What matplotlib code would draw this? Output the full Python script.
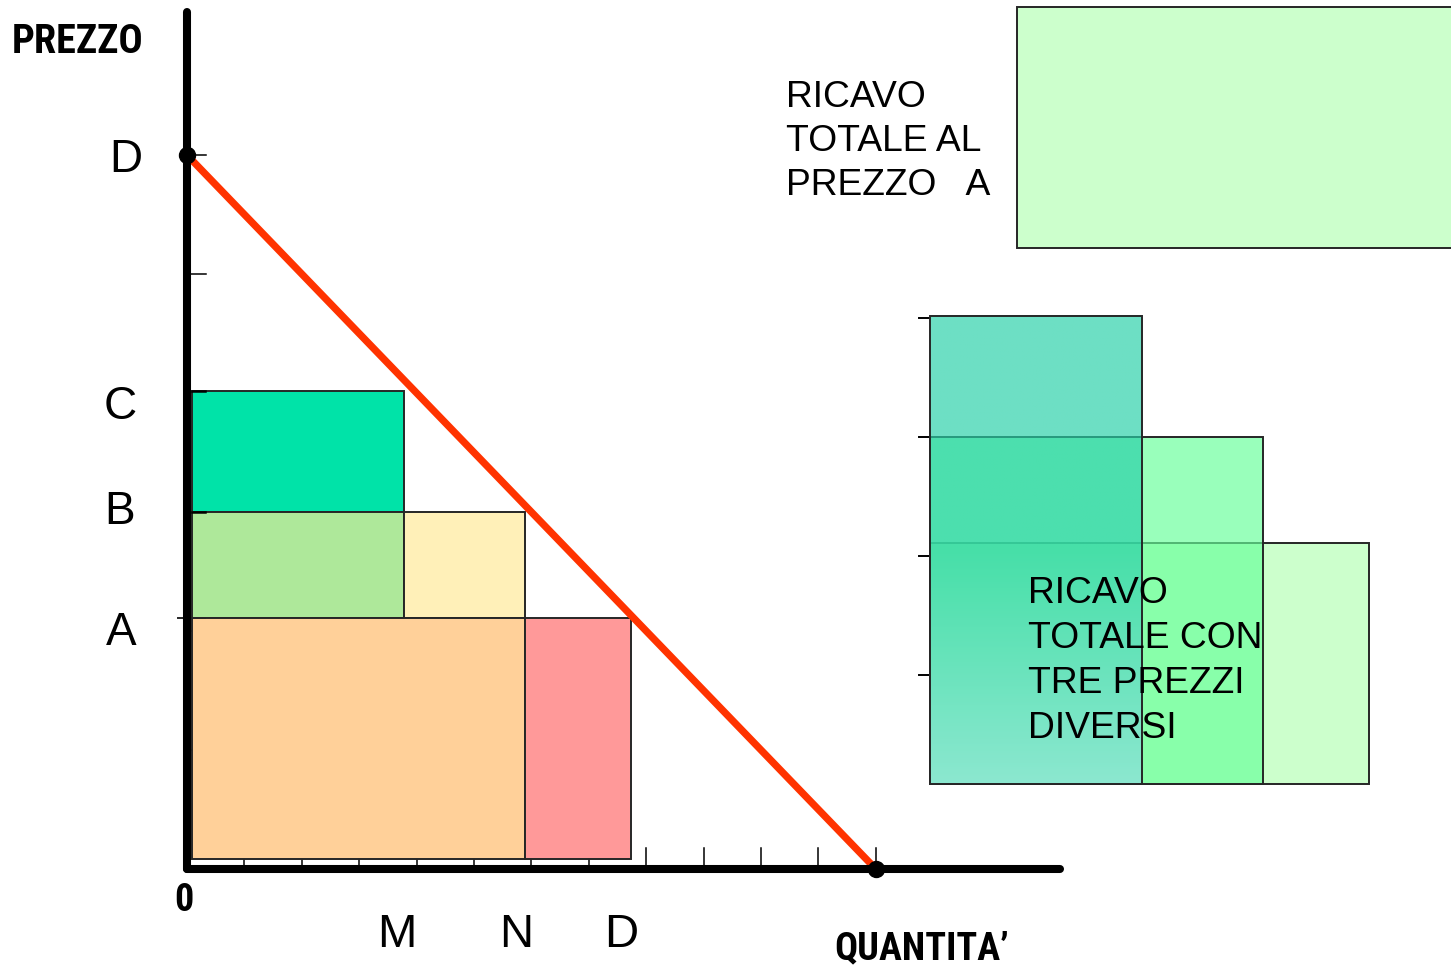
import matplotlib
matplotlib.use("Agg")
import matplotlib.pyplot as plt
from matplotlib.patches import Rectangle
from matplotlib import font_manager
from matplotlib.font_manager import FontProperties
import numpy as np

# ---- data -------------------------------------------------------------
price_labels = ["C", "B", "A"]
prices = [4.02, 3.0, 2.11]            # price levels C, B, A
qty_labels = ["M", "N", "D"]
quantities = [3.78, 5.89, 7.73]       # quantities sold at C, B, A
demand_p_max = 6.0                    # price intercept (D)
demand_q_max = 12.0                   # quantity intercept
y_ticks = [1, 2, 3, 4, 5, 6]
x_ticks = list(range(1, 13))

# ---- drawing frame ----------------------------------------------------
OX, OY = 187, 869          # origin in pixels
QU, PU = 57.4, 119.0       # pixels per quantity / price unit
W, H = 1451, 967


def qx(px):
    return (px - OX) / QU


def py(pyv):
    return (OY - pyv) / PU


# fonts: regular sans plus a condensed bold for the axis titles
entries = font_manager.fontManager.ttflist
names = {f.name for f in entries}
sans = "Liberation Sans" if "Liberation Sans" in names else "DejaVu Sans"


def is_bold(e):
    w = e.weight
    return (isinstance(w, int) and w >= 600) or str(w) in ("bold", "heavy", "black", "demibold", "semibold")


def is_condensed(e):
    s = str(e.stretch)
    return "condensed" in s or (s.isdigit() and int(s) < 500) or "Narrow" in e.name or "Condensed" in e.name


cond = [e for e in entries if is_condensed(e) and is_bold(e)
        and any(k in e.name for k in ("Liberation", "Roboto", "Noto Sans", "Open Sans", "DejaVu Sans", "Lato", "Inter"))
        and "Mono" not in e.name and "Serif" not in e.name]
pref = ["Liberation Sans Narrow", "Roboto Condensed", "Noto Sans", "Open Sans", "DejaVu Sans"]
cond.sort(key=lambda e: next((i for i, p in enumerate(pref) if e.name.startswith(p)), 99))
if cond:
    bold_cond = FontProperties(fname=cond[0].fname)
    cond_scale = 1.0
else:
    bold_cond = FontProperties(family=sans, weight="bold")
    cond_scale = 0.84

fig = plt.figure(figsize=(W / 100, H / 100), dpi=100)
ax = fig.add_axes([0, 0, 1, 1])
ax.axis("off")

EDGE = "#262626"
ELW = 1.4

# axis ticks
for k in y_ticks:
    ax.plot([0, qx(OX + 19)], [k, k], color="black", lw=1.1, zorder=1)
for k in x_ticks:
    ax.plot([k, k], [0, py(OY - 21)], color="black", lw=1.1, zorder=1)

# revenue rectangles under the demand curve
off_x, off_y = qx(192), py(859)
(pC, pB, pA), (qM, qN, qD) = prices, quantities
left_rects = [
    # (q_from, q_to, p_from, p_to, colour)
    (0, qM, pB, pC, "#00E3A8"),
    (0, qM, pA, pB, "#AEE89A"),
    (qM, qN, pA, pB, "#FFF0B8"),
    (0, qN, 0, pA, "#FFD099"),
    (qN, qD, 0, pA, "#FF9999"),
]
for q0, q1, p0, p1, col in left_rects:
    x0 = q0 if q0 else off_x
    y0 = p0 if p0 else off_y
    ax.add_patch(Rectangle((x0, y0), q1 - x0, p1 - y0, facecolor=col,
                           edgecolor=EDGE, lw=ELW, zorder=2))

# short tick marks left on the rectangle tops at C and B, tick at A crossing the axis
for p in (pC, pB):
    ax.plot([off_x, qx(205)], [p, p], color="black", lw=1.8, zorder=3)
ax.plot([qx(178), qx(205)], [pA, pA], color=EDGE, lw=1.4, zorder=3)

# demand curve
ax.plot([0, demand_q_max], [demand_p_max, 0], color="#FF3300", lw=5.2,
        solid_capstyle="butt", zorder=4)

# axes
ax.plot([0, 0], [0, py(12)], color="black", lw=5.8, solid_capstyle="round", zorder=5)
ax.plot([0, qx(1060)], [0, 0], color="black", lw=5.8, solid_capstyle="round", zorder=5)
ax.plot([0, demand_q_max], [demand_p_max, 0], "o", color="black", ms=11.5, zorder=6)

# ---- total revenue at price A (top right) ------------------------------
tx, ty = qx(1017), py(248)
ax.add_patch(Rectangle((tx, ty), qD - off_x, pA - off_y, facecolor="#CCFFCC",
                       edgecolor=EDGE, lw=ELW, zorder=2))

# ---- total revenue with three prices (right) ---------------------------
bx, by = qx(930), py(784)
shift_p = by - off_y
for k in [1, 2, 3, 4]:
    ax.plot([bx - 0.2, bx], [k + shift_p, k + shift_p], color="black", lw=1.4, zorder=1)

ax.add_patch(Rectangle((bx, by), qD - off_x, pA - off_y, facecolor="#CCFFCC",
                       edgecolor=EDGE, lw=ELW, zorder=2))
ax.add_patch(Rectangle((bx, by), qN - off_x, pB - off_y, facecolor=(0.4, 1.0, 0.6, 0.667),
                       edgecolor=EDGE, lw=ELW, zorder=3))

top_c = np.array([40, 209, 168]) / 255
bot_c = np.array([142, 221, 226]) / 255
t = np.linspace(0, 1, 200)
w = np.clip((t - 0.5) / 0.5, 0, 1)[:, None]
grad = np.zeros((200, 1, 4))
grad[:, 0, :3] = top_c * (1 - w) + bot_c * w
grad[:, 0, 3] = 0.68
ax.imshow(grad, extent=(bx, bx + qM - off_x, by, by + pC - off_y), aspect="auto",
          origin="upper", zorder=4, interpolation="bilinear")
ax.add_patch(Rectangle((bx, by), qM - off_x, pC - off_y, facecolor="none",
                       edgecolor=EDGE, lw=ELW, zorder=4.5))


# ---- text ------------------------------------------------------------
def label(px, pyv, s, size, family=None, weight="normal", fp=None):
    kw = dict(fontproperties=fp) if fp is not None else dict(family=family, weight=weight)
    t = ax.text(qx(px), py(pyv), s, ha="left", va="baseline", zorder=7, **kw)
    t.set_fontsize(size)


label(12, 53, "PREZZO", 29 * cond_scale, fp=bold_cond)
label(174, 911, "0", 27.5 * cond_scale, fp=bold_cond)
label(834, 959, "QUANTITA\u2019", 27.5 * cond_scale, fp=bold_cond)

label(109, 172, "D", 33, sans)
for s, pyv, px in zip(price_labels, [419, 524, 645], [104, 104, 106]):
    label(px, pyv, s, 33, sans)
for s, px in zip(qty_labels, [377, 499, 604]):
    label(px, 947, s, 34, sans)

for i, line in enumerate(["RICAVO", "TOTALE AL", "PREZZO   A"]):
    label(786, 107 + 44 * i, line, 26.8, sans)
for i, line in enumerate(["RICAVO", "TOTALE CON", "TRE PREZZI", "DIVERSI"]):
    label(1028, 603 + 45 * i, line, 26.8, sans)

ax.set_xlim(qx(0), qx(W))
ax.set_ylim(py(H), py(0))

fig.savefig("out.png", dpi=100)
